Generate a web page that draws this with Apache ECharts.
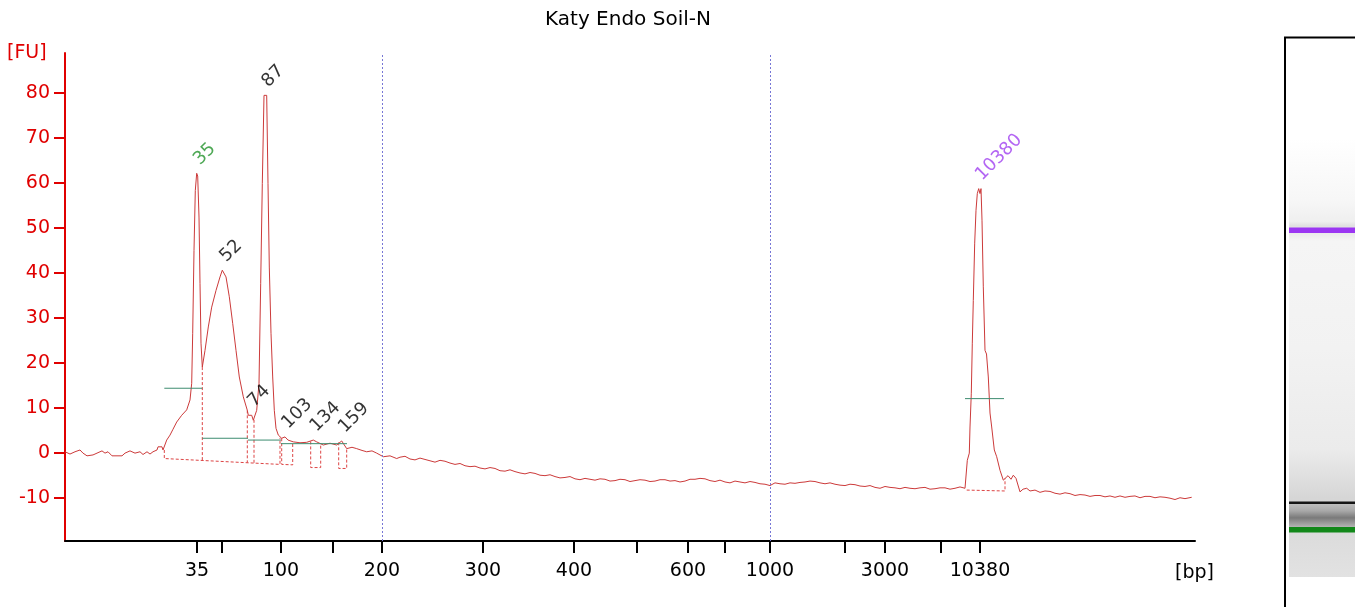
<!DOCTYPE html>
<html>
<head>
<meta charset="utf-8">
<script src="https://cdn.jsdelivr.net/npm/echarts@6/dist/echarts.min.js"></script>
<style>html,body{margin:0;padding:0;background:#fff;}#c{width:1355px;height:607px;}</style>
</head>
<body>
<div id="c"></div>
<script>
// ---- data ----
const ladderSizes = [35, 50, 100, 150, 200, 300, 400, 500, 600, 700, 1000, 2000, 3000, 7000, 10380];
const ladderTimes = [13.2, 15.7, 21.6, 26.8, 31.7, 41.8, 50.9, 57.2, 62.3, 66.0, 70.5, 78.0, 82.0, 87.6, 91.5];
const labeledSizes = [35, 100, 200, 300, 400, 600, 1000, 3000, 10380];
const gridLineSizes = [200, 1000];
const yTicks = [-10, 0, 10, 20, 30, 40, 50, 60, 70, 80];

const traceTime = [
  0.0,0.5,1.0,1.5,1.8,2.2,2.8,3.3,3.7,4.0,4.3,4.7,5.2,5.7,6.0,6.5,7.0,7.5,7.8,8.2,8.5,8.8,9.2,9.3,9.7,9.8,10.0,
  10.17,10.5,10.8,11.17,11.67,12.17,12.5,12.67,12.77,12.9,13.03,13.17,13.27,13.4,13.5,13.6,13.73,
  14.0,14.33,14.67,15.1,15.5,15.73,15.9,16.1,16.43,16.77,17.1,17.43,17.83,18.23,18.33,18.67,18.83,19.0,19.17,
  19.4,19.57,19.73,19.9,20.17,20.3,20.43,20.6,20.77,20.93,21.1,21.33,21.67,22.0,22.3,22.83,23.5,24.17,24.83,
  25.17,25.83,26.5,27.17,27.67,28.17,28.7,29.17,29.7,30.17,30.7,31.17,31.83,32.5,33.17,
  33.5,34,34.5,35,35.5,36,36.5,37,37.5,38,38.5,39,39.5,40,40.5,41,41.5,42,42.5,43,43.5,44,44.5,45,45.5,
  46,46.5,47,47.5,48,48.5,49,49.5,50,50.5,51,51.5,52,52.5,53,53.5,54,54.5,55,55.5,56,56.5,57,57.5,58,58.5,
  59,59.5,60,60.5,61,61.5,62,62.5,63,63.5,64,64.5,65,65.5,66,66.5,67,67.5,68,68.5,69,69.5,70,70.5,71,71.5,
  72,72.5,73,73.5,74,74.5,75,75.5,76,76.5,77,77.5,78,78.5,79,79.5,80,80.5,81,81.5,82,82.5,83,83.5,84,84.5,
  85,85.5,86,86.5,87,87.5,88,88.5,89,89.5,90.0,90.15,
  90.23,90.43,90.5,90.63,90.73,90.83,90.97,91.1,91.23,91.37,91.5,91.6,91.7,91.83,92.0,92.15,92.33,92.5,92.67,92.93,
  93.17,93.5,93.83,94.0,94.3,94.6,94.83,95.1,95.3,95.5,95.8,96.17,96.5,97,97.5,98,98.5,99,99.5,100,100.5,
  101,101.5,102,102.5,103,103.5,104,104.5,105,105.5,106,106.5,107,107.5,108,108.5,109,109.5,110,110.5,
  111,111.5,112,112.67
];
const traceFU = [
  0.3,-0.2,0.3,0.7,0.0,-0.6,-0.4,0.1,0.5,0.0,0.3,-0.6,-0.6,-0.6,0.0,0.5,0.0,0.3,-0.3,0.3,-0.2,0.3,0.7,1.4,1.4,0.7,0.7,
  2.9,4.0,5.3,6.9,8.4,9.6,11.8,15.5,26.6,45.0,58.3,62.1,61.5,52.4,37.7,24.4,19.1,
  22.8,28.0,32.4,36.1,39.1,40.6,40.5,39.1,34.7,28.8,22.8,16.9,12.5,9.5,8.4,8.4,7.3,7.5,9.5,
  15.5,37.7,59.8,79.4,79.4,59.8,41.3,26.6,16.9,9.5,5.5,4.0,3.3,3.6,2.9,2.5,2.3,2.4,2.9,
  2.5,1.8,2.2,1.8,2.7,1.0,1.3,1.0,0.6,0.3,0.5,0.0,-0.8,-0.6,-1.2,
  -0.9,-0.7,-1.3,-1.5,-1.1,-1.4,-1.7,-2.0,-1.6,-1.8,-2.2,-2.5,-2.3,-2.8,-3.0,-2.9,-3.3,-3.5,-3.2,-3.4,-3.9,-4.0,-3.7,-4.1,-4.4,
  -4.6,-4.3,-4.5,-4.9,-5.0,-4.8,-5.2,-5.5,-5.4,-5.2,-5.7,-5.9,-5.6,-5.8,-6.0,-5.7,-5.8,-6.2,-6.1,-5.8,-5.9,-6.3,-6.1,-5.9,-6.0,-6.3,
  -6.2,-5.9,-5.9,-6.2,-6.1,-6.4,-6.2,-5.8,-5.8,-5.6,-5.7,-6.1,-6.3,-6.0,-6.4,-6.6,-6.2,-6.4,-6.6,-6.3,-6.5,-6.8,-6.9,-7.2,-6.6,-6.8,
  -6.9,-6.6,-6.7,-6.5,-6.4,-6.2,-6.3,-6.6,-6.8,-6.6,-6.9,-7.1,-7.2,-6.9,-7.0,-7.3,-7.4,-7.2,-7.6,-7.8,-7.4,-7.6,-7.7,-7.9,-7.6,-7.8,
  -7.9,-7.7,-7.6,-8.0,-7.9,-7.7,-7.7,-8.0,-7.8,-7.5,-7.8,-8.2,
  -1.6,0.0,5.8,13.3,24.4,33.9,46.6,53.9,57.6,58.7,57.6,58.7,51.7,36.9,22.8,22.0,16.9,8.9,5.8,0.7,
  -0.8,-3.8,-6.0,-5.6,-5.0,-5.8,-4.9,-5.6,-5.2,-8.6,-8.0,-7.8,-8.4,-8.2,-8.7,-8.4,-8.5,-8.9,-9.1,-8.8,-9.0,
  -9.4,-9.2,-9.3,-9.6,-9.4,-9.4,-9.7,-9.5,-9.8,-9.5,-9.8,-9.6,-9.5,-9.9,-9.6,-9.6,-9.9,-9.7,-9.8,-10.0,
  -10.3,-9.9,-10.1,-9.8
];

const peakNames = ['35', '52', '87', '74', '103', '134', '159', '10380'];
const peakTimes = [13.17, 15.8, 20.0, 18.6, 22.0, 24.83, 27.67, 91.37];
const peakFU    = [62.1, 40.6, 79.4, 8.4, 3.6, 2.9, 2.7, 58.7];
const peakColors = ['#22922a', '#000000', '#000000', '#000000', '#000000', '#000000', '#000000', '#a040f0'];

// integration borders (dashed) : each is a polyline of [time, FU]
const dashedPaths = [
  [[9.93, 0.7], [9.93, -1.2], [21.5, -2.5], [21.5, 3.4]],
  [[13.73, 19.1], [13.73, -1.6]],
  [[18.23, 9.5], [18.23, -2.1]],
  [[18.9, 7.4], [18.9, -2.2]],
  [[21.67, 3.3], [21.67, -2.5], [22.77, -2.6], [22.77, 2.5]],
  [[24.57, 2.6], [24.57, -3.2], [25.57, -3.2], [25.57, 2.2]],
  [[27.37, 2.4], [27.37, -3.4], [28.17, -3.4], [28.17, 1.0]],
  [[90.17, -8.2], [94.0, -8.4], [94.0, -5.6]]
];
// peak width markers (green)
const greenPaths = [
  [[9.93, 14.4], [13.73, 14.4]],
  [[13.73, 3.3], [18.3, 3.3]],
  [[18.3, 2.9], [21.6, 2.9]],
  [[21.6, 2.1], [28.2, 2.1]],
  [[90.0, 12.1], [93.9, 12.1]]
];

// ---- chart ----
const FONT = 'DejaVu Sans';
const chart = echarts.init(document.getElementById('c'), null, {renderer: 'canvas'});
const sizeAt = t => ladderSizes[ladderTimes.indexOf(t)];
const labeledTimes = ladderTimes.filter((t, i) => labeledSizes.includes(ladderSizes[i]));
const gridTimes = ladderTimes.filter((t, i) => gridLineSizes.includes(ladderSizes[i]));

const series = [];
series.push({
  type: 'line', data: traceTime.map((t, i) => [t, traceFU[i]]), symbol: 'none',
  lineStyle: {color: '#cc3a3a', width: 1}, z: 3, silent: true,
  markLine: {
    silent: true, symbol: 'none', label: {show: false},
    lineStyle: {color: '#7777d6', type: [2, 2], width: 1},
    data: gridTimes.map(t => ({xAxis: t}))
  }
});
dashedPaths.forEach(p => series.push({
  type: 'line', data: p, symbol: 'none', silent: true, z: 2,
  lineStyle: {color: '#dd4444', width: 1, type: [3, 2]}
}));
greenPaths.forEach(p => series.push({
  type: 'line', data: p, symbol: 'none', silent: true, z: 4,
  lineStyle: {color: '#3d8c70', width: 1}
}));
series.push({
  type: 'scatter', symbolSize: 0, silent: true, z: 5,
  data: peakNames.map((n, i) => ({value: [peakTimes[i], peakFU[i]], name: n, label: {color: peakColors[i]}})),
  label: {
    show: true, formatter: p => p.name, position: 'top', distance: 11, rotate: 45,
    align: 'left', verticalAlign: 'middle', fontFamily: FONT, fontSize: 18
  }
});

chart.setOption({
  animation: false,
  backgroundColor: '#ffffff',
  title: {
    text: 'Katy Endo Soil-N', left: 623, top: 5, textAlign: 'center',
    textStyle: {fontFamily: FONT, fontSize: 20, fontWeight: 'normal', color: '#000'}
  },
  grid: {left: 65, right: 160, top: 53, bottom: 66, containLabel: false},
  xAxis: {
    type: 'value', min: 0, max: 113,
    axisLine: {onZero: false, lineStyle: {color: '#000', width: 2}},
    axisTick: {show: true, length: 12, customValues: ladderTimes, lineStyle: {color: '#000', width: 2}},
    axisLabel: {
      customValues: labeledTimes, formatter: v => String(sizeAt(v)),
      color: '#000', fontFamily: FONT, fontSize: 19, margin: 21
    },
    splitLine: {show: false}
  },
  yAxis: {
    type: 'value', min: -19.5, max: 88.8,
    axisLine: {show: true, onZero: false, lineStyle: {color: '#e00000', width: 2}},
    axisTick: {show: true, length: 11, customValues: yTicks, lineStyle: {color: '#e00000', width: 2}},
    axisLabel: {customValues: yTicks, color: '#e00000', fontFamily: FONT, fontSize: 19, margin: 15},
    splitLine: {show: false}
  },
  graphic: [
    {type: 'text', left: 7, top: 44, style: {text: '[FU]', fill: '#e00000', font: '19px "DejaVu Sans"'}},
    {type: 'text', left: 1175, top: 564, style: {text: '[bp]', fill: '#000', font: '19px "DejaVu Sans"'}},
    // gel lane
    {type: 'rect', shape: {x: 1289, y: 138, width: 66, height: 439}, style: {
      fill: new echarts.graphic.LinearGradient(0, 0, 0, 1, [
        {offset: 0, color: '#ffffff'}, {offset: 0.14, color: '#f7f7f7'}, {offset: 0.19, color: '#efefef'},
        {offset: 0.2, color: '#e0e0e0'}, {offset: 0.235, color: '#f5f5f5'}, {offset: 0.48, color: '#f2f2f2'},
        {offset: 0.71, color: '#ebebeb'}, {offset: 0.82, color: '#d6d6d6'}, {offset: 1, color: '#e2e2e2'}
      ])}},
    {type: 'rect', shape: {x: 1289, y: 227.5, width: 66, height: 5.5}, style: {fill: '#9b36f2'}},
    {type: 'rect', shape: {x: 1289, y: 504, width: 66, height: 23}, style: {
      fill: new echarts.graphic.LinearGradient(0, 0, 0, 1, [
        {offset: 0, color: '#bdbdbd'}, {offset: 0.3, color: '#a8a8a8'}, {offset: 0.6, color: '#7a7a7a'},
        {offset: 1, color: '#b5b5b5'}])}},
    {type: 'rect', shape: {x: 1289, y: 501.5, width: 66, height: 2.5}, style: {fill: '#151515'}},
    {type: 'rect', shape: {x: 1289, y: 527, width: 66, height: 5.5}, style: {fill: '#12881a'}},
    {type: 'line', shape: {x1: 1285, y1: 37.5, x2: 1285, y2: 607}, style: {stroke: '#000', lineWidth: 2}},
    {type: 'line', shape: {x1: 1284, y1: 37.5, x2: 1355, y2: 37.5}, style: {stroke: '#000', lineWidth: 2}}
  ],
  series: series
});
</script>
</body>
</html>
